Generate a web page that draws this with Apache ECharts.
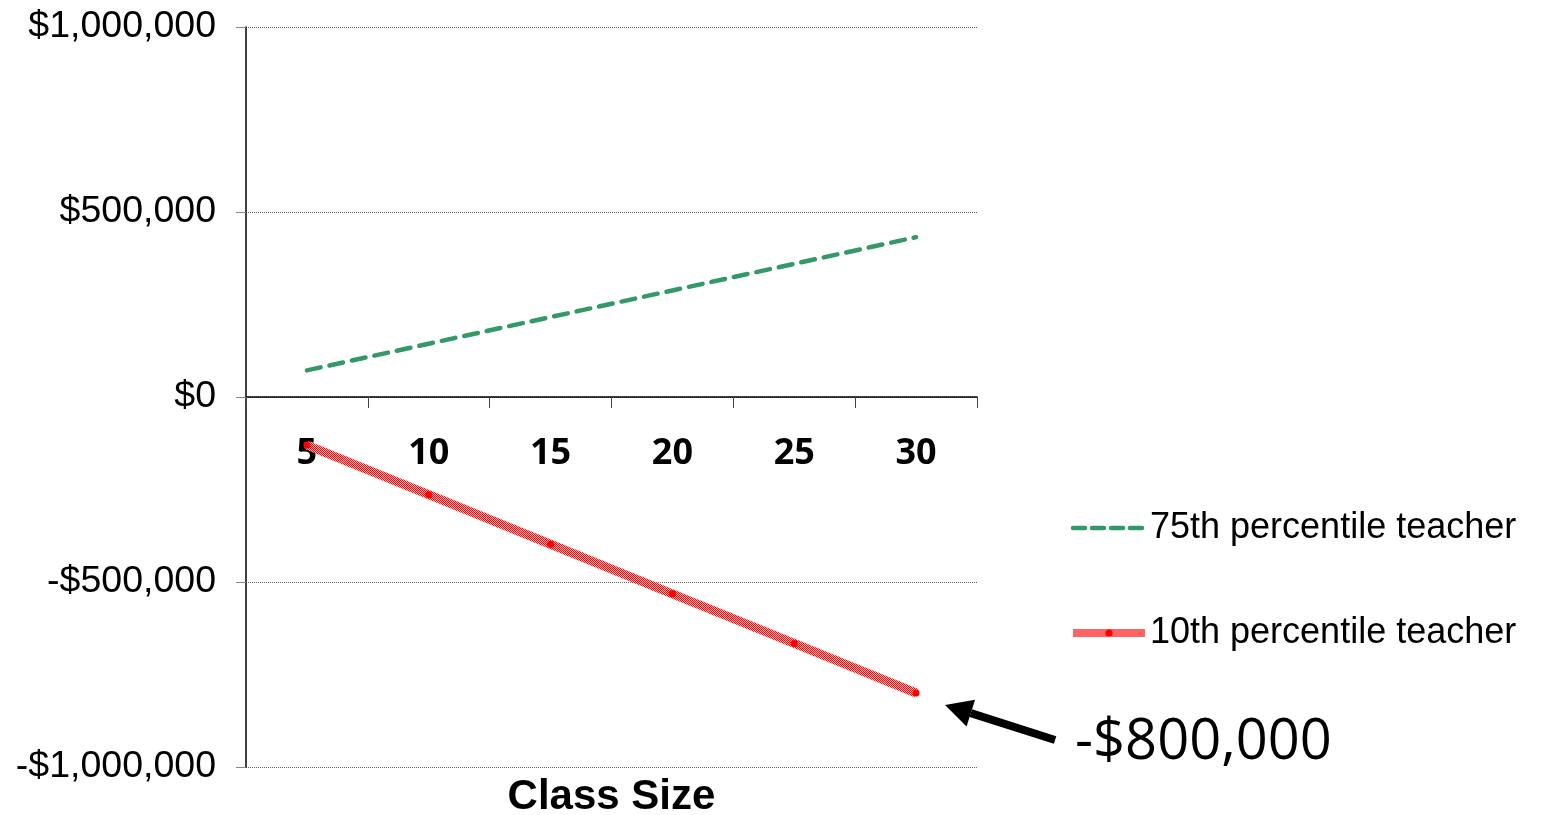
<!DOCTYPE html>
<html lang="en">
  <head>
    <meta charset="UTF-8" />
    <title>Class Size</title>
    <script src="https://cdn.jsdelivr.net/npm/echarts@6/dist/echarts.min.js"></script>
    <style>
      * { margin: 0; padding: 0; }
      body { background: #fff; }
      #chart { width: 1543px; height: 815px; }
    </style>
  </head>
  <body>
    <div id="chart"></div>
    <script>
      const classSizes = ["5", "10", "15", "20", "25", "30"];
      const teacher75 = [72000, 144000, 216000, 288000, 360000, 432000];
      const teacher10 = [-130000, -264000, -398000, -532000, -666000, -800000];
      const seriesNames = ["75th percentile teacher", "10th percentile teacher"];
      const calloutText = "-$800,000";

      // checkerboard pattern for the red hatched line
      const pat = document.createElement("canvas");
      pat.width = 2;
      pat.height = 2;
      const pctx = pat.getContext("2d");
      pctx.fillStyle = "#ffbcbc";
      pctx.fillRect(0, 0, 2, 2);
      pctx.fillStyle = "#ff0a0a";
      pctx.fillRect(0, 0, 1, 1);
      pctx.fillRect(1, 1, 1, 1);
      const redPattern = { image: pat, repeat: "repeat" };

      const money = (v) => {
        if (v === 0) return "$0";
        const s = "$" + Math.abs(v).toLocaleString("en-US");
        return v < 0 ? "-" + s : s;
      };

      const chart = echarts.init(document.getElementById("chart"));
      chart.setOption({
        animation: false,
        grid: {
          left: 246,
          right: 566,
          top: 27,
          bottom: 48,
          containLabel: false,
          outerBoundsMode: "none",
        },
        legend: {
          orient: "vertical",
          left: 1064,
          top: 505,
          itemWidth: 72,
          itemHeight: 9,
          itemGap: 69,
          textStyle: { fontFamily: "Liberation Sans", fontSize: 36, color: "#000" },
          data: [
            {
              name: seriesNames[0],
              lineStyle: { width: 4.5, color: "#339966", type: [12, 7], cap: "round" },
              itemStyle: { opacity: 0 },
            },
            {
              name: seriesNames[1],
              lineStyle: { width: 8, color: redPattern },
              itemStyle: { color: "#ff0000" },
            },
          ],
        },
        xAxis: {
          type: "category",
          data: classSizes,
          boundaryGap: true,
          name: "Class Size",
          nameLocation: "middle",
          nameGap: 9,
          nameTextStyle: {
            fontFamily: "Liberation Sans",
            fontWeight: "bold",
            fontSize: 42,
            color: "#000",
          },
          axisLine: { onZero: true, lineStyle: { color: "#000", width: 1.5 } },
          axisTick: { show: true, length: 11, lineStyle: { color: "#444" } },
          axisLabel: {
            margin: -331,
            fontFamily: "Open Sans",
            fontWeight: "bold",
            fontSize: 36,
            color: "#000",
          },
        },
        yAxis: {
          type: "value",
          min: -1000000,
          max: 1000000,
          interval: 500000,
          axisLine: { show: true, lineStyle: { color: "#000", width: 1.5 } },
          axisTick: { show: true, length: 10, lineStyle: { color: "#888" } },
          axisLabel: {
            formatter: money,
            margin: 30,
            fontFamily: "Liberation Sans",
            fontSize: 37.5,
            color: "#000",
          },
          splitLine: { show: true, lineStyle: { color: "#666", type: "dotted", width: 1 } },
        },
        series: [
          {
            name: seriesNames[0],
            type: "line",
            data: teacher75,
            symbol: "none",
            lineStyle: { color: "#339966", width: 4.5, type: [14, 9], cap: "round" },
            itemStyle: { color: "#339966" },
          },
          {
            name: seriesNames[1],
            type: "line",
            data: teacher10,
            symbol: "circle",
            symbolSize: 7,
            lineStyle: { color: redPattern, width: 9 },
            itemStyle: { color: "#ff0000", borderWidth: 0 },
          },
        ],
      });

      // callout arrow pointing at the last red point
      const last = teacher10.length - 1;
      const p = chart.convertToPixel({ seriesIndex: 1 }, [last, teacher10[last]]);
      const tip = [p[0] + 29, p[1] + 12];
      const tail = [p[0] + 139, p[1] + 47];
      const dx = tip[0] - tail[0];
      const dy = tip[1] - tail[1];
      const len = Math.sqrt(dx * dx + dy * dy);
      const ux = dx / len;
      const uy = dy / len;
      const base = [tip[0] - 27 * ux, tip[1] - 27 * uy];
      const px = -uy * 14;
      const py = ux * 14;
      chart.setOption({
        graphic: [
          {
            type: "line",
            shape: { x1: tail[0], y1: tail[1], x2: base[0], y2: base[1] },
            style: { stroke: "#000", lineWidth: 8 },
          },
          {
            type: "polygon",
            shape: {
              points: [tip, [base[0] + px, base[1] + py], [base[0] - px, base[1] - py]],
            },
            style: { fill: "#000" },
          },
          {
            type: "text",
            x: p[0] + 159,
            y: p[1] + 50,
            style: {
              text: calloutText,
              font: "56px 'Open Sans'",
              fill: "#000",
              verticalAlign: "middle",
            },
          },
        ],
      });
    </script>
  </body>
</html>
